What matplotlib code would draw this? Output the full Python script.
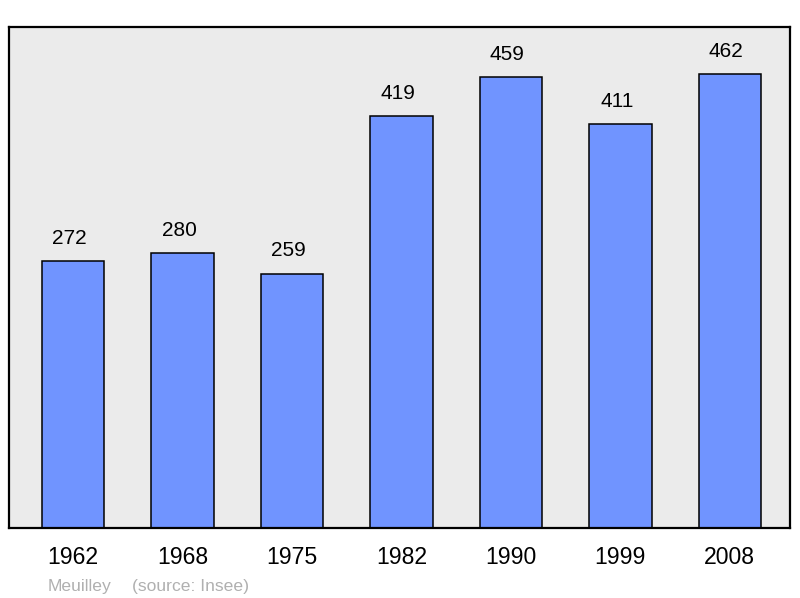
import matplotlib.pyplot as plt
import numpy as np

years = ["1962", "1968", "1975", "1982", "1990", "1999", "2008"]
population = [272, 280, 259, 419, 459, 411, 462]

plt.rcParams['font.family'] = ['Liberation Sans', 'DejaVu Sans']

fig = plt.figure(figsize=(8, 5.98), dpi=100)
ax = fig.add_axes([9/800, 70/598, 781/800, 501/598])
ax.set_facecolor('#ebebeb')

x = np.arange(len(years))
ax.bar(x, population, width=0.57, color='#7094ff', edgecolor='black', linewidth=1.1)
for xi, v in zip(x, population):
    ax.annotate(str(v), (xi, v), xytext=(-2.5, 9.5), textcoords='offset points',
                ha='center', va='bottom', fontsize=15)

ax.set_xlim(-0.585, 6.55)
ax.set_ylim(0, 510)
ax.set_xticks(x)
ax.set_xticklabels(years, fontsize=16.6)
ax.tick_params(axis='x', length=0, pad=13)
ax.set_yticks([])
for s in ax.spines.values():
    s.set_linewidth(1.6)

fig.text(48/800, 1 - 586/598, "Meuilley", color='#b0b0b0', fontsize=12.6, va='center')
fig.text(132/800, 1 - 586/598, "(source: Insee)", color='#b0b0b0', fontsize=12.6, va='center')

fig.savefig('out.png', dpi=100)
